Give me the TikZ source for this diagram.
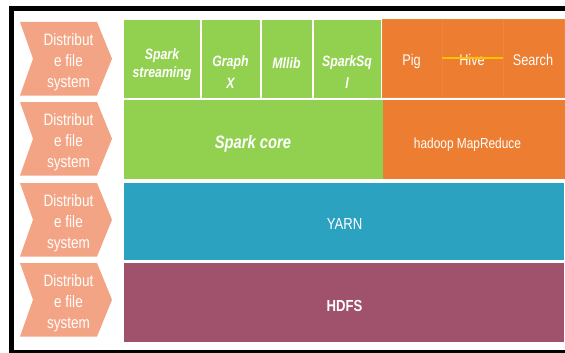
\documentclass[tikz,border=0pt]{standalone}
\usepackage{fontspec}
\setmainfont{Liberation Sans}[FakeStretch=0.82]
\definecolor{chev}{HTML}{F3A484}
\definecolor{grn}{HTML}{92D050}
\definecolor{org}{HTML}{ED7D31}
\definecolor{yarnc}{HTML}{2BA2BF}
\definecolor{hdfsc}{HTML}{A0516B}
\definecolor{goldc}{HTML}{FFC000}
\begin{document}
\begin{tikzpicture}[x=1pt,y=-1pt,
  cellbox/.style={inner sep=0pt, outer sep=0pt, anchor=north west},
  chevtxt/.style={text=white, align=center, inner sep=0pt, font=\fontsize{16.5}{21.25}\selectfont},
  gtxt/.style={text=white, align=center, inner sep=0pt, font=\bfseries\itshape\fontsize{15}{18}\selectfont},
  wtxt/.style={text=white, inner sep=0pt, anchor=base}]
\useasboundingbox (0,0) rectangle (565,353);
\clip (0,0) rectangle (565,353);
\fill[white] (0,0) rectangle (565,353);
% outer frame
\draw[line width=5pt, black] (11.5,8.5) rectangle (600,352.5);
% chevrons
\foreach \t/\n in {22/c1,102/c2,183/c3,263/c4}{
  \fill[chev] (20,\t) -- (97,\t) -- (112,\t+36.75) -- (97,\t+73.5) -- (20,\t+73.5) -- (33,\t+36.75) -- cycle;
  \node[chevtxt] (\n) at (68.5,\t+40) {Distribut\\e file\\system};
}
% row 1 green cells
\node[cellbox, fill=grn, minimum width=76pt, minimum height=78pt] (ss) at (124,20) {};
\node[cellbox, fill=grn, minimum width=58.5pt, minimum height=78pt] (gx) at (201.5,20) {};
\node[cellbox, fill=grn, minimum width=50.5pt, minimum height=78pt] (ml) at (261.5,20) {};
\node[cellbox, fill=grn, minimum width=67.5pt, minimum height=78pt] (sq) at (313.5,20) {};
% row 1 orange cells
\node[cellbox, fill=org, draw=org!94!white, line width=0.4pt, minimum width=60pt, minimum height=78pt] (pig) at (382,19.5) {};
\node[cellbox, fill=org, draw=org!94!white, line width=0.4pt, minimum width=61pt, minimum height=78pt] (hive) at (442,19.5) {};
\node[cellbox, fill=org, draw=org!94!white, line width=0.4pt, minimum width=61pt, minimum height=78pt] (srch) at (503,19.5) {};
% row 2
\node[cellbox, fill=grn, minimum width=258.5pt, minimum height=79pt] (core) at (124,100) {};
\node[cellbox, fill=org, minimum width=182pt, minimum height=79pt] (mr) at (382.5,100) {};
% row 3, 4
\node[cellbox, fill=yarnc, minimum width=440pt, minimum height=77pt] (yarn) at (124,183) {};
\node[cellbox, fill=hdfsc, minimum width=440pt, minimum height=79pt] (hdfs) at (124,263) {};
% texts
\node[gtxt] (tss) at (162,64.4) {Spark\\streaming};
\node[gtxt, font=\bfseries\itshape\fontsize{15}{21.5}\selectfont] (tgx) at (230.5,72.3) {Graph\\X};
\node[wtxt, font=\bfseries\itshape\fontsize{15}{18}\selectfont] (tml) at (286.5,69) {Mllib};
\node[gtxt, font=\bfseries\itshape\fontsize{15}{22}\selectfont] (tsq) at (347,72.5) {SparkSq\\l};
\node[wtxt, font=\fontsize{15.5}{18}\selectfont] (tpig) at (411.5,66) {Pig};
\node[wtxt, font=\fontsize{15.5}{18}\selectfont] (thive) at (472,66) {Hive};
\node[wtxt, font=\fontsize{15.5}{18}\selectfont] (tsrch) at (533,66) {Search};
\draw[goldc, line width=1.4pt] (hive.west |- 0,58) -- (hive.east |- 0,58);
\node[wtxt, font=\bfseries\itshape\fontsize{18}{20}\selectfont] (tcore) at (253,148) {Spark core};
\node[wtxt, font=\fontsize{14.5}{18}\selectfont] (tmr) at (467.5,148) {hadoop MapReduce};
\node[wtxt, font=\fontsize{16}{18}\selectfont] (tyarn) at (344.5,229.5) {YARN};
\node[wtxt, font=\bfseries\fontsize{16}{18}\selectfont] (thdfs) at (344.5,311) {HDFS};
\end{tikzpicture}
\end{document}
